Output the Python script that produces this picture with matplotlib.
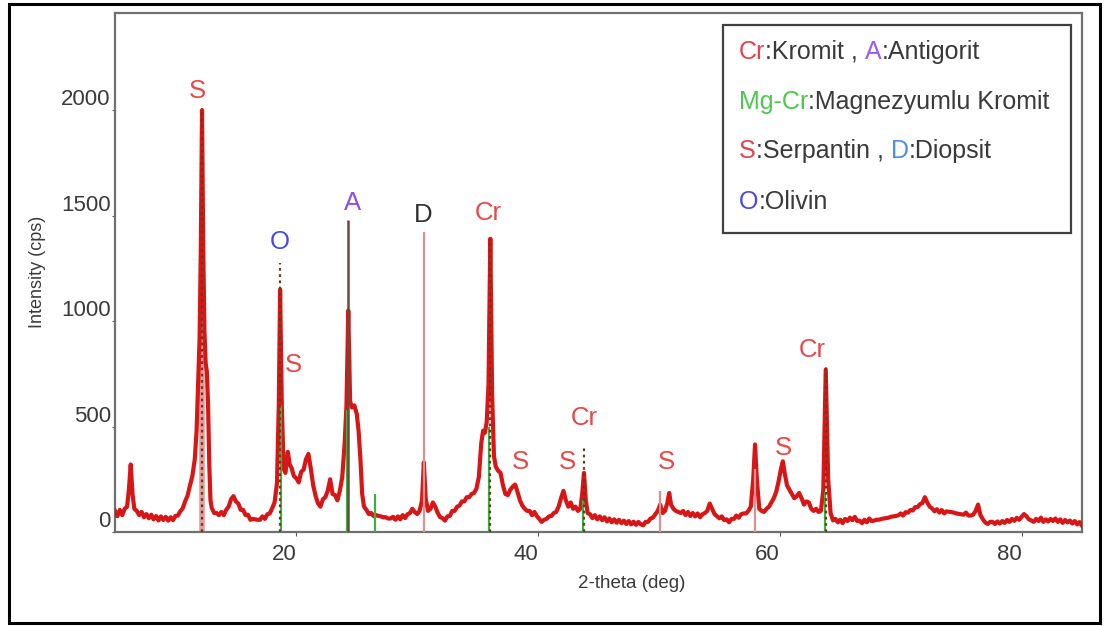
import matplotlib
matplotlib.use("Agg")
import matplotlib.pyplot as plt
from matplotlib.patches import Rectangle

plt.rcParams['font.family'] = ['Liberation Sans', 'DejaVu Sans']

# ---------------- data ----------------
two_theta = [
    5.0, 5.2, 5.4, 5.6, 5.8, 6.0, 6.15, 6.3, 6.45, 6.6, 6.8, 7.0, 7.2, 7.4, 7.6, 7.8,
    8.0, 8.2, 8.4, 8.6, 8.8, 9.0, 9.2, 9.4, 9.6, 9.8, 10.0, 10.2, 10.4, 10.6, 10.8,
    11.0, 11.2, 11.4, 11.6, 11.75, 11.9, 12.0, 12.1, 12.2, 12.3, 12.4, 12.5, 12.6,
    12.7, 12.8, 12.9, 13.0, 13.2, 13.4, 13.6, 13.8, 14.0, 14.2, 14.4, 14.6, 14.8,
    15.0, 15.2, 15.4, 15.6, 15.8, 16.0, 16.2, 16.4, 16.6, 16.8, 17.0, 17.2, 17.4,
    17.6, 17.8, 18.0, 18.2, 18.4, 18.55, 18.66, 18.8, 18.95, 19.1, 19.3, 19.45,
    19.6, 19.8, 20.0, 20.2, 20.4, 20.6, 20.8, 21.0, 21.2, 21.4, 21.6, 21.8, 22.0,
    22.2, 22.4, 22.6, 22.8, 23.0, 23.2, 23.4, 23.6, 23.8, 24.0, 24.15, 24.3, 24.45,
    24.6, 24.8, 25.0, 25.15, 25.3, 25.45, 25.6, 25.8, 26.0, 26.2, 26.4, 26.6, 26.8,
    27.0, 27.2, 27.4, 27.6, 27.8, 28.0, 28.2, 28.4, 28.6, 28.8, 29.0, 29.2, 29.4,
    29.6, 29.8, 30.0, 30.2, 30.4, 30.55, 30.7, 30.9, 31.1, 31.3, 31.5, 31.7, 31.9,
    32.1, 32.3, 32.5, 32.7, 32.9, 33.1, 33.3, 33.5, 33.7, 33.9, 34.1, 34.3, 34.5,
    34.7, 34.9, 35.1, 35.3, 35.45, 35.6, 35.75, 35.9, 36.05, 36.2, 36.35, 36.5,
    36.7, 36.9, 37.1, 37.3, 37.5, 37.7, 37.9, 38.1, 38.3, 38.5, 38.7, 38.9, 39.1,
    39.3, 39.5, 39.7, 39.9, 40.1, 40.3, 40.5, 40.7, 40.9, 41.1, 41.3, 41.5, 41.7,
    41.9, 42.1, 42.3, 42.5, 42.7, 42.9, 43.1, 43.3, 43.5, 43.65, 43.8, 43.95, 44.1,
    44.3, 44.5, 44.7, 44.9, 45.1, 45.3, 45.5, 45.7, 45.9, 46.1, 46.3, 46.5, 46.7,
    46.9, 47.1, 47.3, 47.5, 47.7, 47.9, 48.1, 48.3, 48.5, 48.7, 48.9, 49.1, 49.3,
    49.5, 49.7, 49.9, 50.1, 50.3, 50.5, 50.7, 50.85, 51.0, 51.2, 51.4, 51.6, 51.8,
    52.0, 52.2, 52.4, 52.6, 52.8, 53.0, 53.2, 53.4, 53.6, 53.8, 54.0, 54.2, 54.4,
    54.6, 54.8, 55.0, 55.2, 55.4, 55.6, 55.8, 56.0, 56.2, 56.4, 56.6, 56.8, 57.0,
    57.2, 57.4, 57.6, 57.8, 57.95, 58.1, 58.3, 58.5, 58.7, 58.9, 59.1, 59.3, 59.5,
    59.7, 59.9, 60.1, 60.25, 60.4, 60.6, 60.8, 61.0, 61.2, 61.4, 61.6, 61.8, 62.0,
    62.2, 62.4, 62.6, 62.8, 63.0, 63.2, 63.4, 63.6, 63.8, 64.0, 64.2, 64.4, 64.6,
    64.8, 65.0, 65.2, 65.4, 65.6, 65.8, 66.0, 66.2, 66.4, 66.6, 66.8, 67.0, 67.2,
    67.4, 67.6, 67.8, 68.0, 68.2, 68.4, 68.6, 68.8, 69.0, 69.2, 69.4, 69.6, 69.8,
    70.0, 70.2, 70.4, 70.6, 70.8, 71.0, 71.2, 71.4, 71.6, 71.8, 72.0, 72.2, 72.4,
    72.6, 72.8, 73.0, 73.2, 73.4, 73.6, 73.8, 74.0, 74.2, 74.4, 74.6, 74.8, 75.0,
    75.2, 75.4, 75.6, 75.8, 76.0, 76.2, 76.4, 76.6, 76.8, 77.0, 77.2, 77.4, 77.6,
    77.8, 78.0, 78.2, 78.4, 78.6, 78.8, 79.0, 79.2, 79.4, 79.6, 79.8, 80.0, 80.2,
    80.4, 80.6, 80.8, 81.0, 81.2, 81.4, 81.6, 81.8, 82.0, 82.2, 82.4, 82.6, 82.8,
    83.0, 83.2, 83.4, 83.6, 83.8, 84.0, 84.2, 84.4, 84.6, 84.8, 85.0,
]
intensity = [
    100, 75, 105, 80, 110, 120, 200, 320, 180, 110, 100, 80, 95, 70, 85, 65,
    82, 60, 76, 55, 74, 57, 72, 54, 70, 56, 76, 78, 98, 112, 145,
    172, 220, 265, 345, 480, 750, 920, 1350, 2000, 1350, 950, 800, 760,
    600, 320, 150, 115, 90, 90, 80, 95, 80, 105, 120, 155, 170,
    145, 135, 105, 105, 80, 82, 58, 62, 60, 58, 58, 74, 62,
    84, 88, 112, 140, 230, 600, 1150, 600, 300, 280, 380, 320,
    305, 265, 255, 235, 285, 295, 345, 370, 300, 220, 170, 135, 120,
    155, 165, 195, 250, 180, 175, 150, 195, 260, 420, 600, 1050, 620,
    590, 600, 560, 480, 350, 180, 120, 105, 85, 90, 75, 80, 76,
    74, 70, 70, 64, 64, 72, 58, 74, 60, 80, 66, 84, 90,
    110, 95, 85, 100, 150, 330, 160, 100, 110, 140, 120, 90, 70,
    66, 54, 74, 76, 100, 100, 120, 125, 145, 145, 165, 165, 180,
    185, 205, 260, 420, 480, 470, 520, 700, 1390, 650, 360, 310,
    290, 280, 220, 180, 175, 200, 215, 225, 190, 150, 125, 110, 100,
    100, 80, 95, 75, 62, 48, 58, 62, 74, 76, 90, 95, 120,
    160, 195, 150, 120, 140, 110, 120, 100, 110, 180, 280, 150, 90,
    84, 66, 80, 60, 74, 56, 70, 50, 64, 46, 60, 44, 58,
    42, 54, 38, 52, 36, 49, 34, 48, 36, 32, 48, 48, 64,
    68, 84, 100, 130, 90, 100, 140, 185, 130, 110, 100, 95, 90,
    100, 80, 95, 76, 90, 74, 88, 70, 84, 90, 100, 135, 110,
    85, 75, 65, 74, 56, 60, 46, 62, 62, 78, 68, 84, 88,
    88, 100, 120, 250, 415, 250, 110, 100, 95, 110, 120, 140, 160,
    190, 240, 300, 335, 280, 220, 200, 180, 160, 170, 185, 160, 130,
    145, 140, 110, 100, 110, 95, 100, 200, 770, 250, 90, 55, 62,
    46, 58, 42, 62, 52, 68, 56, 72, 52, 54, 42, 58, 46,
    64, 52, 54, 58, 58, 62, 64, 66, 68, 72, 74, 76, 79,
    88, 78, 94, 92, 104, 102, 118, 118, 132, 138, 165, 140, 120,
    112, 98, 108, 92, 104, 88, 98, 96, 94, 92, 88, 86, 84,
    82, 92, 78, 78, 82, 100, 130, 80, 60, 45, 38, 48, 48,
    38, 50, 40, 52, 43, 57, 48, 62, 53, 67, 58, 72, 85,
    75, 60, 55, 48, 62, 52, 68, 48, 60, 50, 62, 52, 64,
    48, 60, 43, 57, 46, 54, 40, 52, 36, 47, 30,
]

# reference lines (2-theta, height)
dotted_pos = [12.2, 18.66, 36.05, 43.8, 63.8]
dotted_h = [2000, 1275, 1390, 405, 780]
antigorite_pos = [24.3]
antigorite_h = [1478]
pink_pos = [12.2, 30.58, 50.1, 57.95]
pink_h = [1345, 1420, 193, 300]
green_pos = [18.7, 24.2, 26.5, 35.9, 43.7, 63.7]
green_h = [600, 580, 178, 500, 150, 190]

# peak labels
peak_text = ['S', 'O', 'S', 'A', 'D', 'Cr', 'S', 'S', 'Cr', 'S', 'S', 'Cr']
peak_x = [11.79, 18.66, 19.74, 24.62, 30.5, 35.88, 38.53, 42.42, 43.82, 50.61, 60.3, 62.7]
peak_y = [2089, 1374, 793, 1559, 1502, 1511, 333, 333, 542, 333, 400, 864]
peak_kind = ['S', 'O', 'S', 'A', 'D', 'Cr', 'S', 'S', 'Cr', 'S', 'S', 'Cr']

x_ticks = [20, 40, 60, 80]
y_ticks = [0, 500, 1000, 1500, 2000]

# legend entries: (text, colour key)
legend_rows = [
    [('Cr', 'red'), (':Kromit , ', 'txt'), ('A', 'purple'), (':Antigorit', 'txt')],
    [('Mg-Cr', 'green'), (':Magnezyumlu Kromit', 'txt')],
    [('S', 'red'), (':Serpantin , ', 'txt'), ('D', 'lblue'), (':Diopsit', 'txt')],
    [('O', 'blue'), (':Olivin', 'txt')],
]

# ---------------- styles ----------------
RED = '#d81616'
LBL_RED = '#e84848'
kind_color = {'S': LBL_RED, 'Cr': LBL_RED, 'O': '#4a4ae0', 'A': '#8a4ef0', 'D': '#303030'}
TXT = '#3a3a3a'
leg_color = {'red': '#e8404a', 'txt': TXT, 'purple': '#9a5cf0', 'green': '#4cc94c',
             'lblue': '#4a8ef0', 'blue': '#4a4ad8'}

W, H = 1109, 626
fig = plt.figure(figsize=(W / 100, H / 100), dpi=100)
fig.patch.set_facecolor('white')

ax = fig.add_axes([115 / W, 1 - 532 / H, (1082 - 115) / W, (532 - 13) / H])

ax.plot(two_theta, intensity, color=RED, lw=3.0, zorder=3, solid_joinstyle='round')

ax.vlines(pink_pos[:1], 0, pink_h[:1], color='#e89a9a', lw=4, zorder=2)
ax.vlines(pink_pos[1:], 0, pink_h[1:], color='#dc9090', lw=1.6, zorder=4)
ax.vlines(green_pos, 0, green_h, color='#3cb043', lw=1.6, zorder=4)
ax.vlines(antigorite_pos, 0, antigorite_h, color='#6b4a3a', lw=1.8, zorder=4)
ax.vlines(dotted_pos, 0, dotted_h, color='#6a3a14', lw=1.6, linestyles=(0, (1.2, 1.6)), zorder=5)

for t, x, y, k in zip(peak_text, peak_x, peak_y, peak_kind):
    ax.text(x, y, t, color=kind_color[k], fontsize=18.5, ha='center', va='center', zorder=6)

ax.set_xlim(5, 85)
ax.set_ylim(0, 2460)
ax.set_xticks(x_ticks)
ax.set_yticks(y_ticks)
ax.tick_params(axis='both', colors='#555555', labelcolor=TXT, labelsize=16, direction='out')
ax.tick_params(axis='y', length=2, pad=1)
ax.tick_params(axis='x', length=3, pad=6)
for lab in ax.get_yticklabels():
    lab.set_va('bottom')
for lab in ax.get_xticklabels():
    lab.set_ha('right')
for s in ax.spines.values():
    s.set_color('#707070')
    s.set_linewidth(1.6)

fig.text(38 / W, 1 - 272 / H, 'Intensity (cps)', rotation=90, ha='center', va='center',
         fontsize=13, color=TXT)
fig.text(632 / W, 1 - 583 / H, '2-theta (deg)', ha='center', va='center',
         fontsize=13.5, color=TXT)

# legend box
fig.add_artist(Rectangle((723 / W, 1 - 233 / H), (1071 - 723) / W, (233 - 25) / H,
                         transform=fig.transFigure, facecolor='white',
                         edgecolor='#404040', lw=1.6, zorder=10))
renderer = fig.canvas.get_renderer()
leg_y = [52, 102, 151, 202]
for parts, yp in zip(legend_rows, leg_y):
    xpix = 739.0
    for s, ck in parts:
        t = fig.text(xpix / W, 1 - yp / H, s, color=leg_color[ck], fontsize=18,
                     ha='left', va='center', zorder=11)
        bb = t.get_window_extent(renderer)
        xpix = bb.x1

# outer frame
fig.add_artist(Rectangle((9 / W, 3 / H), (1100 - 9) / W, (622 - 3) / H,
                         transform=fig.transFigure, facecolor='none',
                         edgecolor='black', lw=2.2, zorder=20))

fig.savefig('out.png', dpi=100)
